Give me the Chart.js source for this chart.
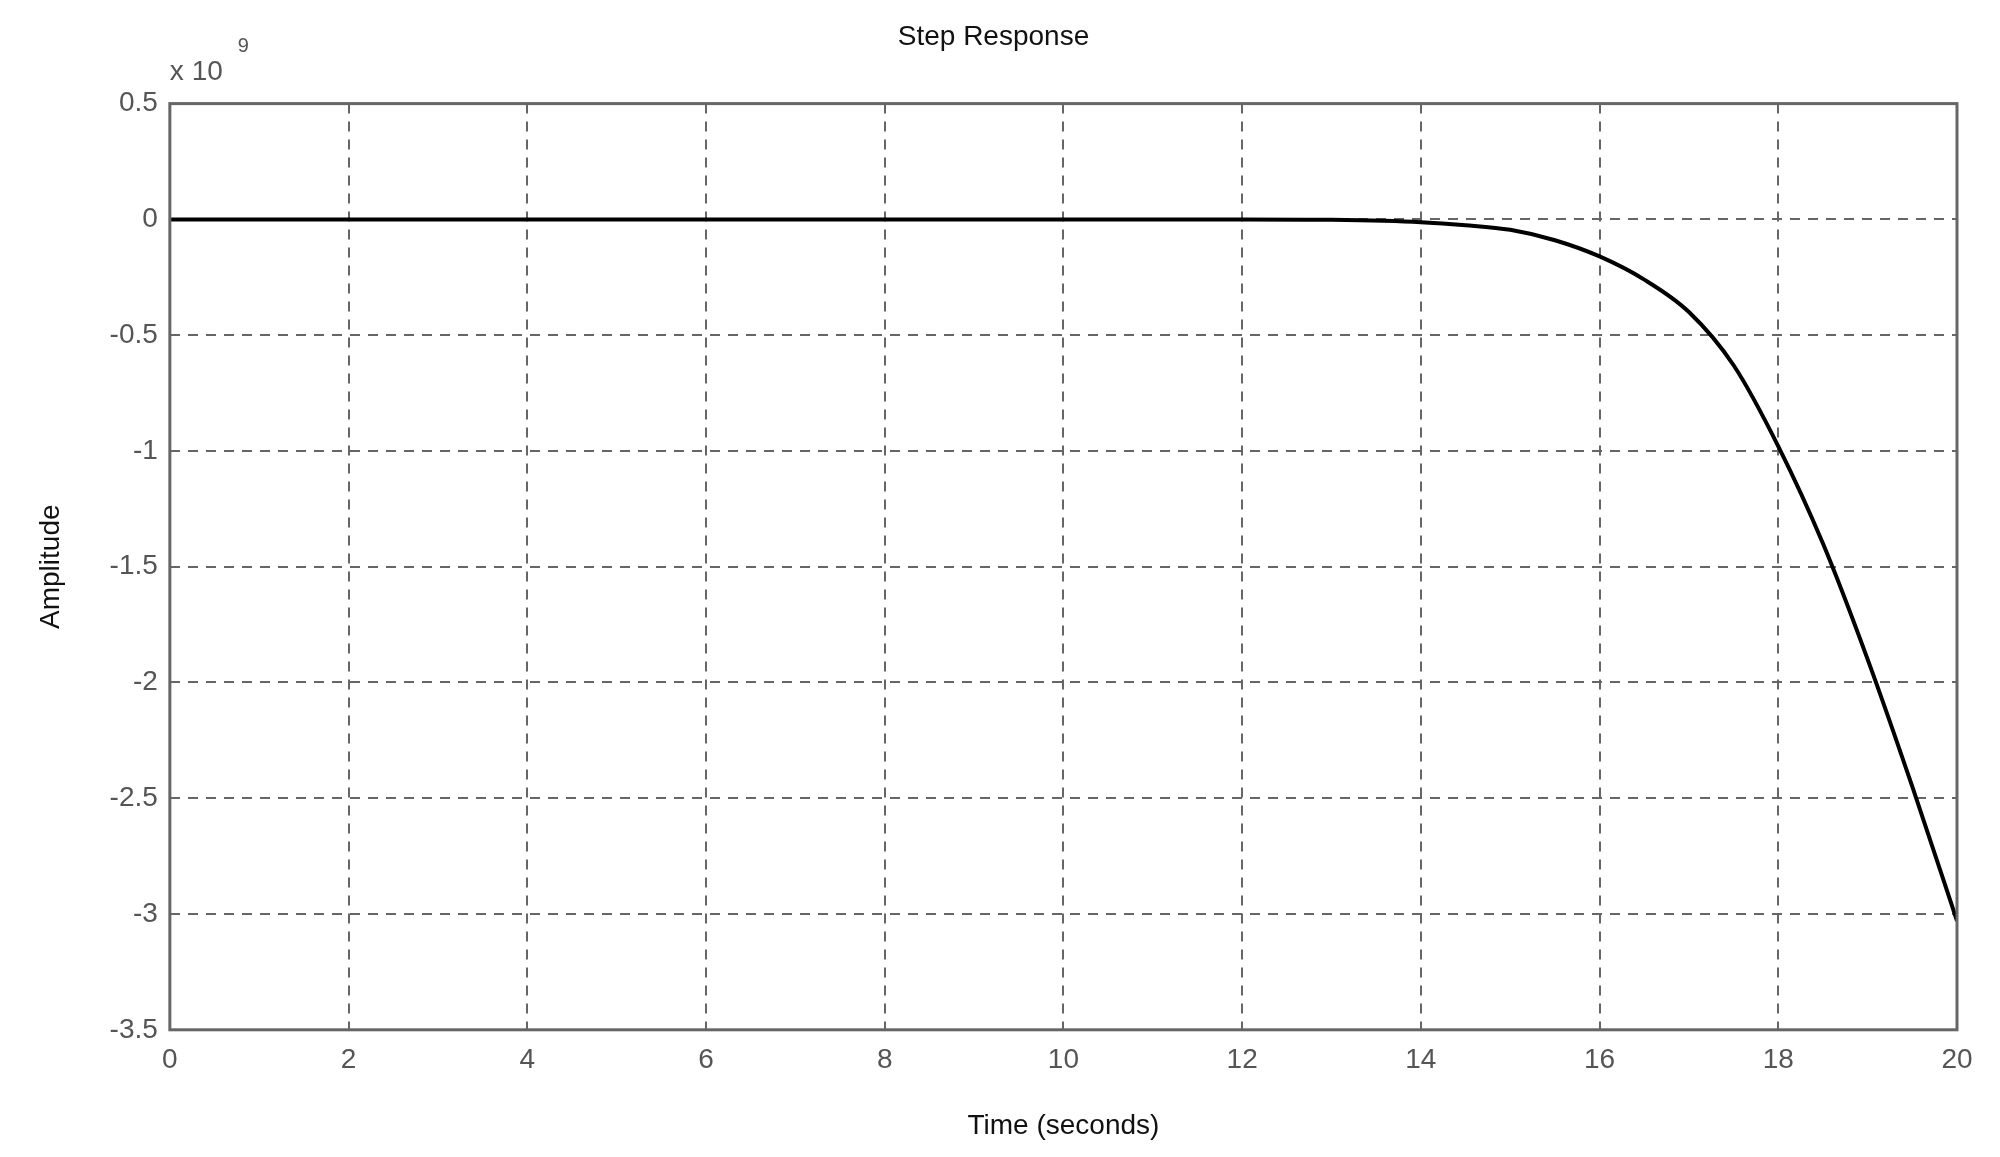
<!DOCTYPE html>
<html>
<head>
<meta charset="utf-8">
<script src="https://cdn.jsdelivr.net/npm/chart.js@4"></script>
<style>
  html, body { margin: 0; background: #fff; }
  #wrap { width: 2000px; height: 1157px; }
</style>
</head>
<body>
<div id="wrap"><canvas id="stepChart"></canvas></div>
<script>
// Step response, amplitude in units of 1e9
const timeValues = [0, 2, 4, 6, 8, 10, 12, 13, 14, 14.5, 15, 15.5, 16, 16.5, 17, 17.5, 18, 18.5, 19, 19.5, 20];
const amplitudeValues = [0, 0, 0, 0, 0, 0, 0, -0.002, -0.012, -0.025, -0.045, -0.09, -0.16, -0.26, -0.40, -0.63, -0.98, -1.40, -1.90, -2.45, -3.03];
const xTicks = [0, 2, 4, 6, 8, 10, 12, 14, 16, 18, 20];
const yTicks = [0.5, 0, -0.5, -1, -1.5, -2, -2.5, -3, -3.5];

const font = { family: 'Liberation Sans, Arial, sans-serif', size: 28, weight: 'normal' };

const framePlugin = {
    id: 'frame',
    afterDraw(chart) {
        const { ctx, chartArea: a } = chart;
        ctx.save();
        ctx.strokeStyle = '#666';
        ctx.lineWidth = 3;
        ctx.strokeRect(a.left, a.top, a.right - a.left, a.bottom - a.top);
        // exponent label
        ctx.fillStyle = '#555';
        ctx.font = '28px Liberation Sans, Arial, sans-serif';
        ctx.textBaseline = 'alphabetic';
        ctx.fillText('x 10', a.left, a.top - 24);
        ctx.font = '20px Liberation Sans, Arial, sans-serif';
        ctx.fillText('9', a.left + 68, a.top - 52);
        ctx.restore();
    }
};

new Chart(document.getElementById('stepChart'), {
    type: 'line',
    data: {
        datasets: [{
            data: timeValues.map((t, i) => ({ x: t, y: amplitudeValues[i] })),
            borderColor: '#000',
            borderWidth: 4,
            pointRadius: 0,
            cubicInterpolationMode: 'monotone'
        }]
    },
    options: {
        responsive: true,
        maintainAspectRatio: false,
        animation: false,
        layout: { padding: { top: 6, right: 43, left: 30, bottom: 10 } },
        plugins: {
            legend: { display: false },
            tooltip: { enabled: false },
            title: {
                display: true,
                text: 'Step Response',
                color: '#111',
                font: font,
                padding: { top: 14, bottom: 50 }
            }
        },
        scales: {
            x: {
                type: 'linear',
                min: 0, max: 20,
                afterBuildTicks: s => { s.ticks = xTicks.map(v => ({ value: v })); },
                ticks: { color: '#555', font: font, padding: 14, maxRotation: 0, callback: v => String(v) },
                grid: { color: '#666', lineWidth: 2, drawTicks: false },
                border: { display: false, dash: [10, 8] },
                title: { display: true, text: 'Time (seconds)', color: '#111', font: font, padding: { top: 18 } }
            },
            y: {
                type: 'linear',
                min: -3.5, max: 0.5,
                afterBuildTicks: s => { s.ticks = yTicks.map(v => ({ value: v })); },
                ticks: { color: '#555', font: font, padding: 12, callback: v => String(v) },
                grid: { color: '#666', lineWidth: 2, drawTicks: false },
                border: { display: false, dash: [10, 8] },
                title: { display: true, text: 'Amplitude', color: '#111', font: font, padding: { bottom: 30 } }
            }
        }
    },
    plugins: [framePlugin]
});
</script>
</body>
</html>
